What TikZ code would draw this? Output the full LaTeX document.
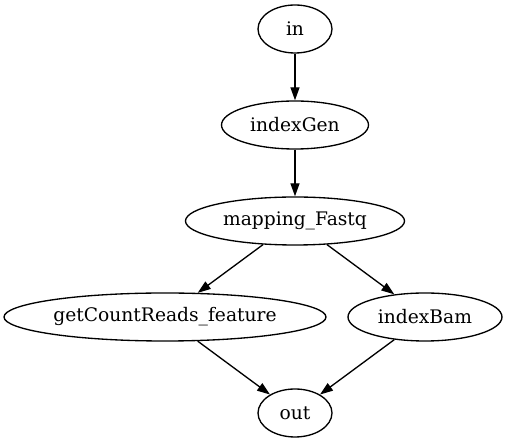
\documentclass[tikz,border=0pt]{standalone}
\usepackage{fontspec}
\setmainfont{DejaVu Serif}
\usetikzlibrary{arrows.meta}
\usetikzlibrary{shapes.geometric}

\begin{document}
\begin{tikzpicture}[x=1pt, y=-1pt, line width=1.33pt,
  task/.style={draw, ellipse, inner sep=0pt, minimum height=48pt,
    font=\fontsize{18.67}{22}\selectfont},
  flow/.style={-{Triangle[length=13pt, width=9pt]}}]
\useasboundingbox (0,0) rectangle (507,443);
\node[task, minimum width=74pt]  (in)       at (295,29)  {in};
\node[task, minimum width=147pt] (indexGen) at (295,125) {indexGen};
\node[task, minimum width=219pt] (mapping)  at (295,221) {mapping\_Fastq};
\node[task, minimum width=322pt] (getCount) at (165,317) {getCountReads\_feature};
\node[task, minimum width=154pt] (indexBam) at (425,317) {indexBam};
\node[task, minimum width=74pt]  (out)      at (295,413) {out};
\draw[flow] (in) -- (indexGen);
\draw[flow] (indexGen) -- (mapping);
\draw[flow] (mapping) -- (getCount);
\draw[flow] (mapping) -- (indexBam);
\draw[flow] (getCount) -- (out);
\draw[flow] (indexBam) -- (out);
\end{tikzpicture}
\end{document}
